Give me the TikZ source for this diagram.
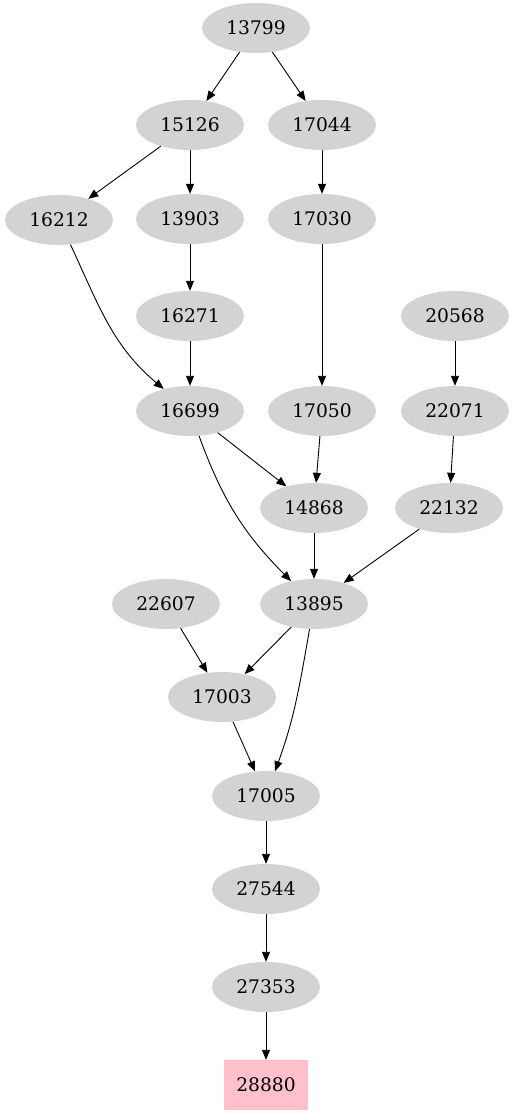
\documentclass[tikz,border=0pt]{standalone}
\usepackage{fontspec}
\setmainfont{DejaVu Serif}
\usetikzlibrary{shapes.geometric, arrows.meta}
\definecolor{nodegray}{RGB}{211,211,211}
\definecolor{nodepink}{RGB}{255,192,203}

\begin{document}
\begin{tikzpicture}[x=1pt, y=1pt,
		num/.style = {ellipse, fill=nodegray, minimum width=108pt, minimum height=50pt, inner sep=0pt, font=\fontsize{18.7}{20}\selectfont},
		last/.style = {rectangle, fill=nodepink, minimum width=84pt, minimum height=50pt, inner sep=0pt, font=\fontsize{18.7}{20}\selectfont},
		edge/.style = {-{Triangle[length=10pt, width=8pt]}, line width=0.9pt}]
		\useasboundingbox (0,0) rectangle (514,-1115);
		
		% rows of the graph
		\node [num] (n13799) at (256,-28) {13799};
		\node [num] (n15126) at (190,-125) {15126};
		\node [num] (n17044) at (322,-125) {17044};
		\node [num] (n16212) at (59,-220) {16212};
		\node [num] (n13903) at (190,-219) {13903};
		\node [num] (n17030) at (322,-219) {17030};
		\node [num] (n16271) at (190,-316) {16271};
		\node [num] (n20568) at (455,-316) {20568};
		\node [num] (n16699) at (190,-411) {16699};
		\node [num] (n17050) at (322,-411) {17050};
		\node [num] (n22071) at (455,-411) {22071};
		\node [num] (n14868) at (314,-508) {14868};
		\node [num] (n22132) at (449,-508) {22132};
		\node [num] (n22607) at (166,-604) {22607};
		\node [num] (n13895) at (314,-604) {13895};
		\node [num] (n17003) at (222,-697) {17003};
		\node [num] (n17005) at (266,-796) {17005};
		\node [num] (n27544) at (266,-889) {27544};
		\node [num] (n27353) at (266,-987) {27353};
		\node [last] (n28880) at (266,-1085) {28880};
		
		\draw [edge] (n13799) -- (n15126);
		\draw [edge] (n13799) -- (n17044);
		\draw [edge] (n15126) -- (n16212);
		\draw [edge] (n15126) -- (n13903);
		\draw [edge] (n17044) -- (n17030);
		\draw [edge] (n13903) -- (n16271);
		\draw [edge] (n17030) -- (n17050);
		\draw [edge] (n16212) to [out=-65, in=140] (n16699);
		\draw [edge] (n16271) -- (n16699);
		\draw [edge] (n20568) -- (n22071);
		\draw [edge] (n16699) -- (n14868);
		\draw [edge] (n17050) -- (n14868);
		\draw [edge] (n22071) -- (n22132);
		\draw [edge] (n16699) to [out=-70, in=135] (n13895);
		\draw [edge] (n14868) -- (n13895);
		\draw [edge] (n22132) -- (n13895);
		\draw [edge] (n22607) -- (n17003);
		\draw [edge] (n13895) -- (n17003);
		\draw [edge] (n13895) to [out=-100, in=70] (n17005);
		\draw [edge] (n17003) -- (n17005);
		\draw [edge] (n17005) -- (n27544);
		\draw [edge] (n27544) -- (n27353);
		\draw [edge] (n27353) -- (n28880);
	\end{tikzpicture}
\end{document}
